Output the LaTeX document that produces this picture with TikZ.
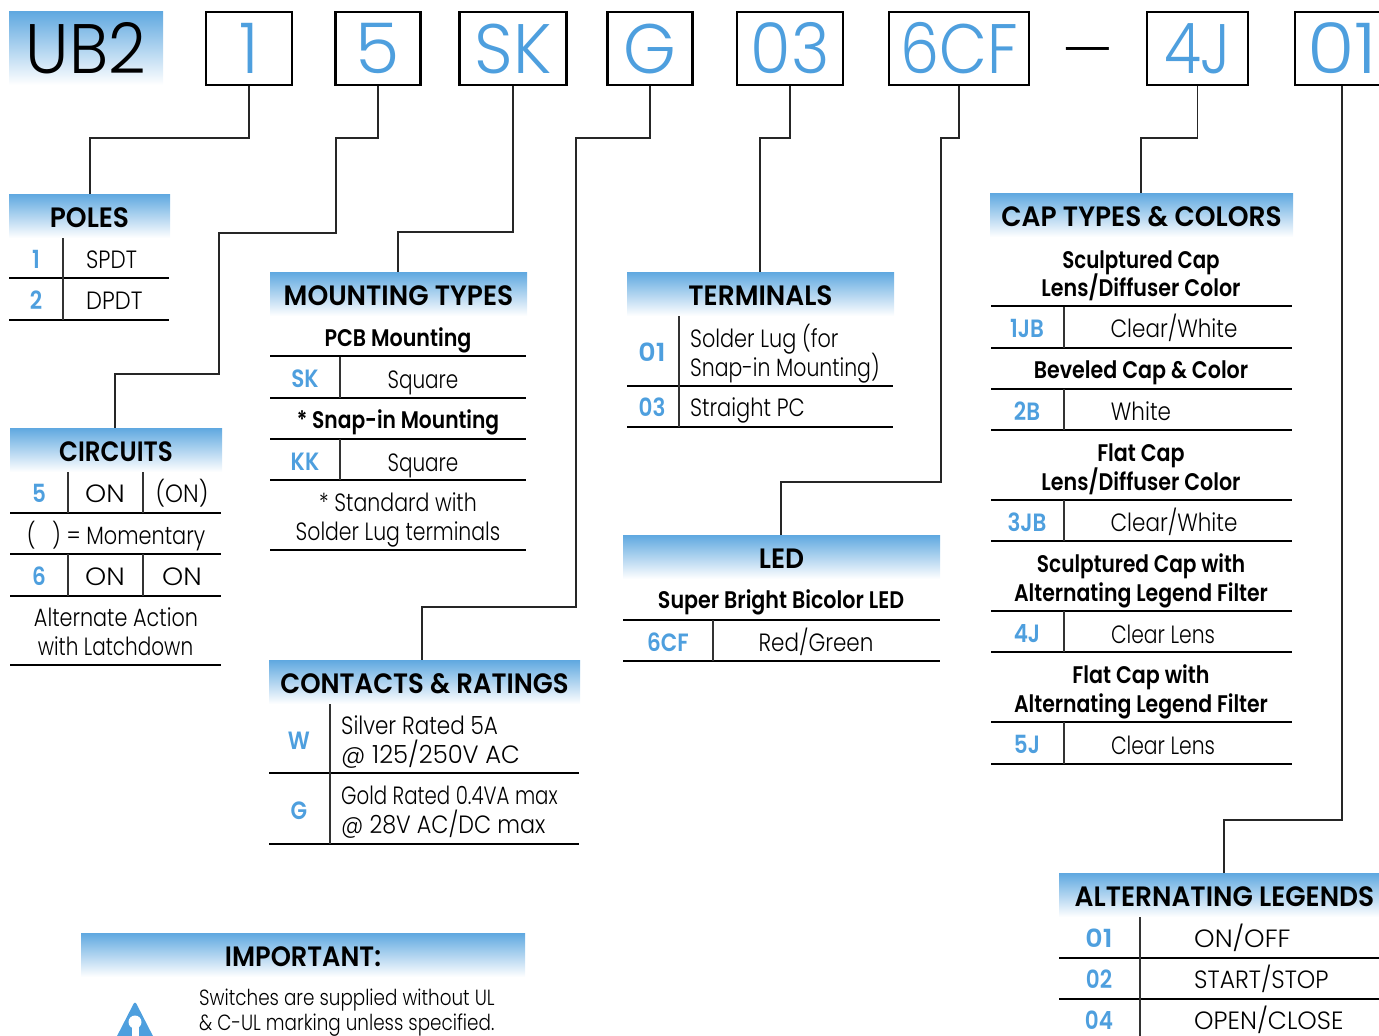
\documentclass[tikz,border=0pt]{standalone}
\usepackage{graphicx}
\usepackage{fontspec}
\setmainfont{Poppins}[UprightFont={* Light},BoldFont={* SemiBold},FakeStretch=0.86]
\newfontfamily\headfont{Poppins}[UprightFont={* SemiBold},FakeStretch=0.945]
\usetikzlibrary{calc}
\definecolor{kblue}{HTML}{4E9FDE}
\definecolor{ptop}{HTML}{5FA8E0}
\newcommand{\sx}[2]{\scalebox{#1}[1]{#2}}
\tikzset{
 panel/.style={inner sep=0pt,minimum height=44pt,top color=ptop,bottom color=white,font=\fontsize{28}{28}\headfont,text=black,text height=28pt,text depth=6pt},
 digitbox/.style={draw=black,line width=2.6pt,fill=white,minimum height=73pt,inner sep=0pt,text=kblue,font=\fontsize{70}{70}\selectfont,text height=56pt,text depth=6pt},
 rulel/.style={line width=1.4pt,black},
 vrule/.style={line width=1.3pt,black!80},
 conn/.style={line width=1.4pt,black!85},
 keyt/.style={inner sep=0pt,text=kblue,font=\fontsize{25}{25}\selectfont\bfseries,text height=24pt,text depth=6pt},
 txt/.style={inner sep=0pt,text=black,font=\fontsize{25}{25}\selectfont,text height=24pt,text depth=6pt},
 txtl/.style={txt,anchor=west},
 bold/.style={inner sep=0pt,text=black,font=\fontsize{24}{24}\selectfont\bfseries,text height=23pt,text depth=6pt},
 smalll/.style={txtl,font=\fontsize{22}{22}\selectfont,text height=22pt,text depth=6pt},
}
\begin{document}
\begin{tikzpicture}[x=1pt,y=-1pt]
\useasboundingbox (0,0) rectangle (1379,1036);
\clip (0,0) rectangle (1379,1036);
% header row
\node[panel,minimum width=154pt,minimum height=74pt,font=\fontsize{70}{70}\selectfont,text height=56pt,text depth=6pt] (ub) at (86,48) {\sx{1.09}{UB2}};
\node[digitbox,minimum width=86pt] (b1) at (249,48.5) {\sx{1.1}{1}};
\node[digitbox,minimum width=85pt] (b5) at (378,48.5) {\sx{1.19}{5}};
\node[digitbox,minimum width=107pt] (bsk) at (513,48.5) {\sx{1.12}{SK}};
\node[digitbox,minimum width=85pt] (bg) at (650,48.5) {\sx{1.12}{G}};
\node[digitbox,minimum width=106pt] (b03) at (790,48.5) {\sx{1.09}{03}};
\node[digitbox,minimum width=140pt] (b6) at (959,48.5) {\sx{1.03}{6CF}};
\node[inner sep=0pt,font=\fontsize{50}{50}\selectfont] (dash) at (1087.5,57) {\sx{1.39}{—}};
\node[digitbox,minimum width=101pt] (b4) at (1197.5,48.5) {4J};
\node[digitbox,minimum width=94pt] (b01) at (1342,48.5) {\sx{1.28}{01}};
% panels
\node[panel,minimum width=161pt] (poles) at (89.5,216) {POLES};
\node[panel,minimum width=212pt] (circ) at (116,450) {\sx{0.93}{CIRCUITS}};
\node[panel,minimum width=257pt] (mount) at (398.5,294) {MOUNTING TYPES};
\node[panel,minimum width=267pt] (term) at (760.5,294) {TERMINALS};
\node[panel,minimum width=317pt] (led) at (781.5,557) {LED};
\node[panel,minimum width=311pt] (cont) at (424.5,682) {\sx{0.98}{CONTACTS \& RATINGS}};
\node[panel,minimum width=303pt] (cap) at (1141.5,215) {CAP TYPES \& COLORS};
\node[panel,minimum width=331pt] (alt) at (1224.5,895) {ALTERNATING LEGENDS};
\node[panel,minimum width=444pt] (imp) at (303,955) {\sx{0.97}{IMPORTANT:}};
% connectors
\coordinate (contc) at (422,660);
\coordinate (altc) at (1224,873);
\draw[conn] (b1.south) |- (90,138) -- (90,194);
\draw[conn] (b5.south) |- (336,138) |- (219,233) |- (115,374) -- (115,428);
\draw[conn] (bsk.south) |- (398,232) -- (398,272);
\draw[conn] (bg.south) |- (576,138) |- (422,607) -- (contc);
\draw[conn] (b03.south) |- (760,138) -- (760,272);
\draw[conn] (b6.south) |- (941,138) |- (781,482) -- (781,535);
\draw[conn] (b4.south) |- (1141,138) -- (1141,193);
\draw[conn] (b01.south) |- (1224,820) -- (altc);
% POLES
\foreach \y in {278,320} \draw[rulel] (9,\y) -- (169,\y);
\draw[vrule] (63,238) -- (63,320);
\node[keyt] (p1) at (36,259) {1}; \node[txtl] (p1t) at (86,259) {SPDT};
\node[keyt] (p2) at (36,300) {2}; \node[txtl] (p2t) at (86,300) {\sx{1.05}{DPDT}};
% CIRCUITS
\foreach \y in {513,554,596,665} \draw[rulel] (10,\y) -- (221,\y);
\foreach \x in {68,143} {\draw[vrule] (\x,472) -- (\x,513); \draw[vrule] (\x,554) -- (\x,596);}
\node[keyt] (c5) at (39,493) {5}; \node[txt] (c5a) at (105,493) {\sx{1.25}{ON}}; \node[txt] (c5b) at (182,493) {\sx{1.06}{(ON)}};
\node[txt] (cm) at (116,535) {\sx{0.97}{(\hspace{17pt}) = Momentary}};
\node[keyt] (c6) at (39,576) {6}; \node[txt] (c6a) at (105,576) {\sx{1.25}{ON}}; \node[txt] (c6b) at (182,576) {\sx{1.25}{ON}};
\node[txt] (ca1) at (116,617) {\sx{0.965}{Alternate Action}};
\node[txt] (ca2) at (115.5,646) {\sx{0.93}{with Latchdown}};
% MOUNTING
\foreach \y in {356,398,439,480,550} \draw[rulel] (270,\y) -- (526,\y);
\draw[vrule] (340,357) -- (340,398); \draw[vrule] (340,439) -- (340,480);
\node[bold] (m1) at (398,338) {PCB Mounting};
\node[keyt] (msk) at (305,378) {SK}; \node[txt] (msq) at (423,379) {\sx{0.93}{Square}};
\node[bold] (m2) at (398,420) {\sx{0.98}{* Snap-in Mounting}};
\node[keyt] (mkk) at (305,461) {KK}; \node[txt] (mkq) at (423,462) {\sx{0.93}{Square}};
\node[txt] (m3) at (398,502) {\sx{0.955}{* Standard with}};
\node[txt] (m4) at (398,531) {\sx{0.95}{Solder Lug terminals}};
% TERMINALS
\foreach \y in {386,427} \draw[rulel] (627,\y) -- (893,\y);
\draw[vrule] (679,316) -- (679,427);
\node[keyt] (t1) at (652,352) {\sx{1.25}{01}};
\node[txtl] (t1a) at (690,338) {\sx{0.967}{Solder Lug (for}};
\node[txtl] (t1b) at (690,367) {\sx{0.95}{Snap-in Mounting)}};
\node[keyt] (t3) at (652,407) {03}; \node[txtl] (t3a) at (690,407) {\sx{0.975}{Straight PC}};
% LED
\foreach \y in {620,661} \draw[rulel] (623,\y) -- (940,\y);
\draw[vrule] (713,620) -- (713,661);
\node[bold] (l1) at (781,600) {Super Bright Bicolor LED};
\node[keyt] (l2) at (668,642) {6CF}; \node[txt] (l3) at (816,642) {Red/Green};
% CONTACTS
\foreach \y in {773,844} \draw[rulel] (269,\y) -- (579,\y);
\draw[vrule] (330,704) -- (330,844);
\node[keyt] (kw) at (299,740) {W}; \node[keyt] (kg) at (299,810) {G};
\node[txtl] (k1) at (341,725) {Silver Rated 5A};
\node[txtl] (k2) at (341,754) {\sx{1.13}{@ 125/250V AC}};
\node[txtl] (k3) at (341,795) {\sx{0.92}{Gold Rated 0.4VA max}};
\node[txtl] (k4) at (341,824) {\sx{1.035}{@ 28V AC/DC max}};
% CAP
\foreach \y in {306,348,389,430,500,541,611,652,722,764} \draw[rulel] (991,\y) -- (1292,\y);
\foreach \a/\b in {307/348,389/430,500/541,611/652,722/764} \draw[vrule] (1064,\a) -- (1064,\b);
\node[bold] (a1) at (1141,260) {\sx{0.96}{Sculptured Cap}};
\node[bold] (a2) at (1141,288) {Lens/Diffuser Color};
\node[keyt] (a3) at (1027,328) {1JB}; \node[txt] (a4) at (1174,328) {Clear/White};
\node[bold] (a5) at (1141,370) {Beveled Cap \& Color};
\node[keyt] (a6) at (1027,411) {2B}; \node[txt] (a7) at (1141,411) {White};
\node[bold] (a8) at (1141,453) {Flat Cap};
\node[bold] (a9) at (1141,482) {Lens/Diffuser Color};
\node[keyt] (a10) at (1027,522) {3JB}; \node[txt] (a11) at (1174,522) {Clear/White};
\node[bold] (a12) at (1141,564) {\sx{0.975}{Sculptured Cap with}};
\node[bold] (a13) at (1141,593) {\sx{0.99}{Alternating Legend Filter}};
\node[keyt] (a14) at (1027,633) {4J}; \node[txt] (a15) at (1163,634) {\sx{0.945}{Clear Lens}};
\node[bold] (a16) at (1141,675) {Flat Cap with};
\node[bold] (a17) at (1141,704) {\sx{0.99}{Alternating Legend Filter}};
\node[keyt] (a18) at (1027,744) {5J}; \node[txt] (a19) at (1163,745) {\sx{0.945}{Clear Lens}};
% ALT
\foreach \y in {958,999} \draw[rulel] (1059,\y) -- (1379,\y);
\draw[vrule] (1140,917) -- (1140,1036);
\node[keyt] (g1) at (1099,938) {\sx{1.25}{01}}; \node[txtl] (g1t) at (1194,938) {\sx{1.215}{ON/OFF}};
\node[keyt] (g2) at (1099,979) {02}; \node[txtl] (g2t) at (1194,979) {\sx{1.09}{START/STOP}};
\node[keyt] (g3) at (1099,1020) {04}; \node[txtl] (g3t) at (1194,1020) {\sx{1.15}{OPEN/CLOSE}};
% IMPORTANT
\node[smalll] (i1) at (199,997) {\sx{0.97}{Switches are supplied without UL}};
\node[smalll] (i2) at (199,1022) {\sx{0.97}{\& C-UL marking unless specified.}};
\fill[kblue,rounded corners=3pt] (135,1001) -- (155,1040) -- (115,1040) -- cycle;
\fill[white] (135,1022) circle (6.5pt);
\fill[white] (131.5,1024) rectangle (138.5,1040);
\end{tikzpicture}
\end{document}
